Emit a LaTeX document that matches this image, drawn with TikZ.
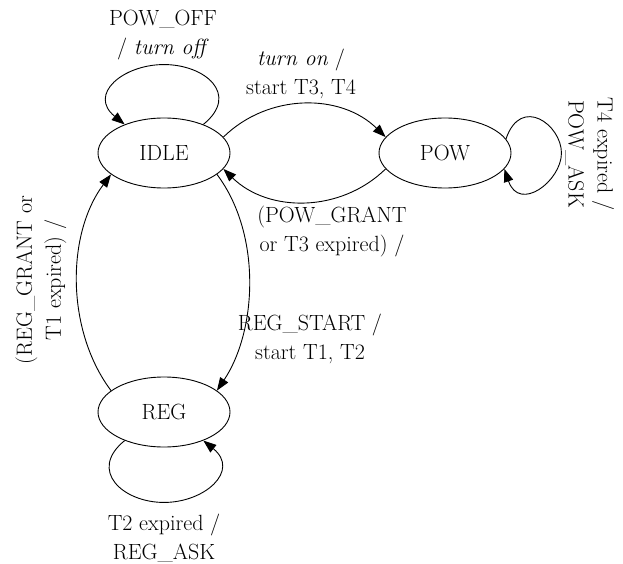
\documentclass[tikz,border=0pt]{standalone}
\usetikzlibrary{arrows.meta,shapes.geometric}
\begin{document}
\begin{tikzpicture}[x=1pt,y=-1pt,
  state/.style={draw,ellipse,line width=0.9pt,minimum width=132pt,minimum height=70pt,inner sep=0pt,font=\fontsize{22}{28}\selectfont},
  lbl/.style={align=center,inner sep=0pt,font=\fontsize{22}{29}\selectfont},
  edge/.style={line width=0.9pt,-{Triangle[length=13pt,width=9.5pt]}}]
\useasboundingbox (0,0) rectangle (623,564);
\node[state] (IDLE) at (164,153) {IDLE};
\node[state] (POW) at (445,153) {POW};
\node[state] (REG) at (164,412) {REG};

\draw[edge] (IDLE.36) .. controls +(37,-30) and +(41,0) .. ([yshift=53pt]IDLE.north)
  .. controls +(-41,0) and +(-37,-30) .. (IDLE.144);
\draw[edge] (IDLE.15) .. controls +(45,-44) and +(-45,-44) .. (POW.165);
\draw[edge] (POW.195) .. controls +(-45,44) and +(45,44) .. (IDLE.-15);
\draw[edge] (IDLE.-22) .. controls +(45,60) and +(40,-60) .. (REG.22);
\draw[edge] (REG.158) .. controls +(-45,-60) and +(-45,60) .. (IDLE.202);
\draw[edge] (REG.216) .. controls +(-37,30) and +(-41,0) .. ([yshift=-55pt]REG.south)
  .. controls +(41,0) and +(37,30) .. (REG.-36);
\draw[edge] (POW.13) .. controls +(15,-44) and +(0,-28) .. ([xshift=50pt]POW.east)
  .. controls +(0,28) and +(15,44) .. (POW.-15);

\node[lbl] (l1) at (163,35) {POW\_OFF\\/ \textit{turn off}};
\node[lbl] (l2) at (301,74) {\textit{turn on} /\\start T3, T4};
\node[lbl] (l3) at (332,232) {(POW\_GRANT\\or T3 expired) /};
\node[lbl] (l4) at (310,339) {REG\_START /\\start T1, T2};
\node[lbl,rotate=90] (l5) at (41,280) {(REG\_GRANT or\\T1 expired) /};
\node[lbl,rotate=-90] (l6) at (590,154) {T4 expired /\\POW\_ASK};
\node[lbl] (l7) at (164,538) {T2 expired /\\REG\_ASK};
\end{tikzpicture}
\end{document}
